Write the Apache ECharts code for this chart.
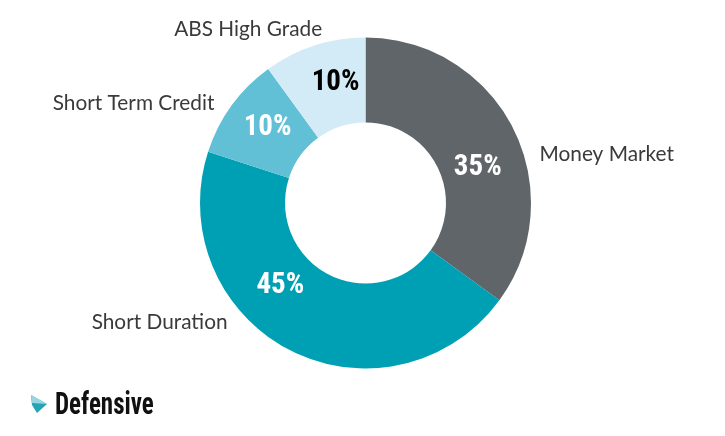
<!DOCTYPE html>
<html><head><meta charset="utf-8"><style>html,body{margin:0;padding:0;background:#fff}#c{width:725px;height:436px}</style>
<script src="https://cdn.jsdelivr.net/npm/echarts@6/dist/echarts.min.js"></script></head>
<body><div id="c"></div><script>
const categories=["Money Market","Short Duration","Short Term Credit","ABS High Grade"];
const values=[35,45,10,10];
const colors=["#5f6569","#00a0b4","#62c0d6","#d3ebf6"];
const valueColors=["#ffffff","#ffffff","#ffffff","#000000"];
const title="Defensive";
const narrow='"Roboto Condensed",Roboto,sans-serif';
const chart=echarts.init(document.getElementById('c'),null,{renderer:'canvas'});
const center=[365.5,203], rad=[80.5,165.5];
const common={type:'pie',center:center,radius:rad,startAngle:90,clockwise:true,silent:true,animation:false};
const innerShift=[[0,22],[-28,-30],[4,-1],[9,0]];
const outerShift=[[18,28],[-56,-32],[-9,0],[14,-13]];
chart.setOption({
 graphic:[
  {type:'polygon',shape:{points:[[31,395],[47,404],[37,413],[32,405]]},style:{fill:'#22a5b5'}},
  {type:'polygon',shape:{points:[[31,395],[47,404],[32,403]]},style:{fill:'#9ad5e2'}},
  {type:'text',x:55,y:406,scaleX:0.78,style:{text:title,font:'bold 32px '+narrow,fill:'#111',textVerticalAlign:'middle',textBaseline:'middle'}}
 ],
 series:[
 {...common,data:categories.map((n,i)=>({name:n,value:values[i],itemStyle:{color:colors[i]},
   label:{color:valueColors[i],offset:innerShift[i]}})),
  label:{show:true,position:'inside',formatter:p=>p.value+'%',fontFamily:narrow,fontSize:29,fontWeight:'bold'},
  labelLine:{show:false}},
 {...common,itemStyle:{color:'transparent'},data:categories.map((n,i)=>({name:n,value:values[i],label:{offset:outerShift[i]}})),
  label:{show:true,position:'outside',formatter:'{b}',fontFamily:'Lato, sans-serif',fontSize:20.8,color:'#3a3a3a'},
  labelLine:{show:false,length:4,length2:0}}
 ]});
</script></body></html>
